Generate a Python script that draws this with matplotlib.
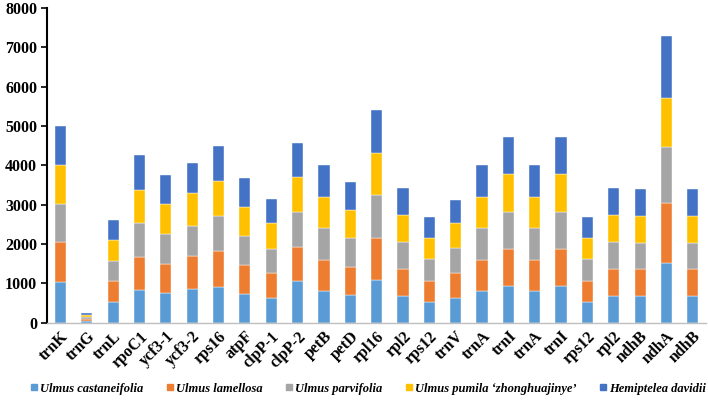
import numpy as np
import matplotlib.pyplot as plt
from matplotlib.lines import Line2D

# gene labels
genes = ['trnK', 'trnG', 'trnL', 'rpoC1', 'ycf3-1', 'ycf3-2', 'rps16', 'atpF',
         'clpP-1', 'clpP-2', 'petB', 'petD', 'rpl16', 'rpl2', 'rps12', 'trnV',
         'trnA', 'trnI', 'trnA', 'trnI', 'rps12', 'rpl2', 'ndhB', 'ndhA', 'ndhB']

# lengths per species
castaneifolia = [1035, 47, 526, 823, 746, 865, 908, 721, 619, 1052, 797, 712, 1077,
                 687, 534, 628, 797, 941, 797, 941, 534, 687, 679, 1518, 679]
lamellosa = [1009, 48, 526, 856, 755, 831, 916, 746, 645, 882, 798, 713, 1086,
             679, 535, 636, 798, 933, 798, 933, 535, 679, 678, 1518, 678]
parvifolia = [976, 47, 517, 857, 747, 764, 882, 738, 610, 882, 805, 721, 1077,
              687, 542, 627, 805, 950, 805, 950, 542, 687, 679, 1442, 679]
pumila = [992, 48, 526, 848, 763, 831, 907, 747, 671, 882, 806, 712, 1086,
          687, 535, 637, 806, 950, 806, 950, 535, 687, 678, 1230, 678]
hemiptelea = [992, 47, 526, 874, 746, 763, 891, 729, 602, 882, 806, 730, 1085,
              678, 534, 602, 806, 950, 806, 950, 534, 678, 679, 1578, 679]

series = [castaneifolia, lamellosa, parvifolia, pumila, hemiptelea]
names = ['Ulmus castaneifolia', 'Ulmus lamellosa', 'Ulmus parvifolia',
         'Ulmus pumila \u2018zhonghuajinye\u2019', 'Hemiptelea davidii']
colors = ['#5B9BD5', '#ED7D31', '#A5A5A5', '#FFC000', '#4472C4']

plt.rcParams['font.family'] = ['Liberation Serif', 'DejaVu Serif']

fig = plt.figure(figsize=(7.08, 4.0), dpi=100)
ax = fig.add_axes([0.067, 0.193, 0.93, 0.787])

x = np.arange(len(genes))
bottom = np.zeros(len(genes))
for vals, name, c in zip(series, names, colors):
    ax.bar(x, vals, width=0.42, bottom=bottom, color=c, label=name,
           edgecolor='white', linewidth=0.3)
    bottom += np.array(vals)

ax.set_xlim(-0.5, len(genes) - 0.5)
ax.set_ylim(0, 8000)
ax.set_yticks(np.arange(0, 8001, 1000))
ax.tick_params(axis='y', labelsize=11.5, length=4, width=1.2, direction='out')
for lab in ax.get_yticklabels():
    lab.set_fontweight('bold')

ax.set_xticks(x)
ax.set_xticklabels(genes, rotation=45, ha='right', rotation_mode='anchor',
                   fontsize=11.5, fontweight='bold')
ax.tick_params(axis='x', length=0, pad=4)

ax.spines['top'].set_visible(False)
ax.spines['right'].set_visible(False)
ax.spines['left'].set_color('black')
ax.spines['left'].set_linewidth(1.5)
ax.spines['bottom'].set_color('#BFBFBF')
ax.spines['bottom'].set_linewidth(1)

handles = [Line2D([], [], marker='s', linestyle='', color=c, markersize=5)
           for c in colors]
fig.legend(handles, names, loc='center', bbox_to_anchor=(0.519, 0.028), ncol=5,
           frameon=False, handletextpad=0.1, columnspacing=1.7,
           handlelength=0.8, borderpad=0,
           prop={'style': 'italic', 'weight': 'bold', 'size': 9})

plt.savefig('out.png', dpi=100)
